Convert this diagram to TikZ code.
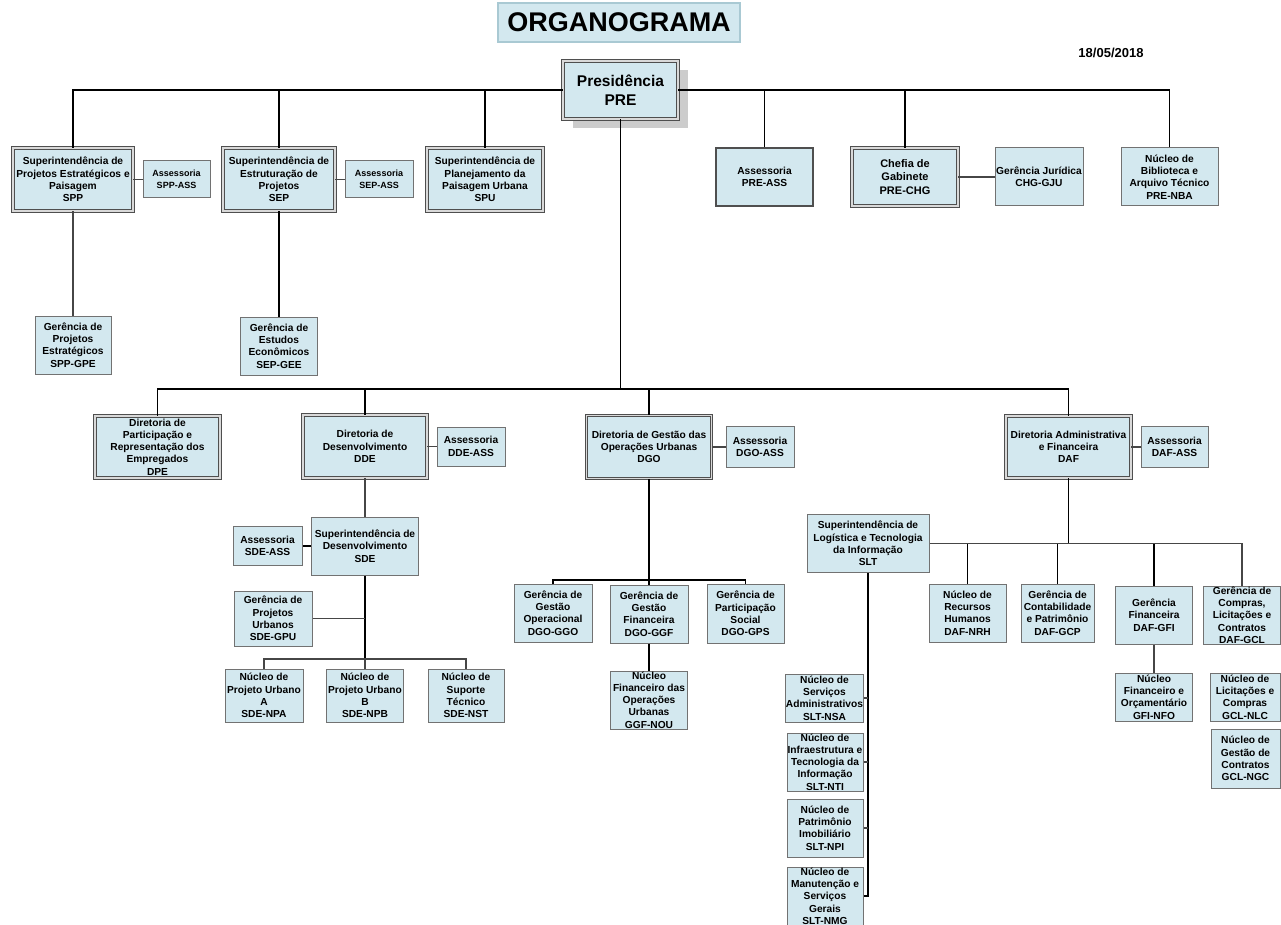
\documentclass[tikz,border=0pt]{standalone}
\usepackage{fontspec}
\setmainfont{Liberation Sans}
\usetikzlibrary{positioning,shadows}
\definecolor{boxfill}{HTML}{D3E8EF}
\definecolor{boxline}{HTML}{4F4F4F}
\definecolor{titleline}{HTML}{A9C9D3}
\tikzset{
    every node/.style={color=black, font=\bfseries\fontsize{10.2}{12.3}\selectfont},
    every path/.style={color=black}
}

\begin{document}
\begin{tikzpicture}[
        x=1pt, y=-1pt,
        line width=1pt,
        unit/.style={rectangle, draw=boxline!80, fill=boxfill, align=center, inner sep=0pt, line width=1pt},
        headunit/.style={unit, draw=boxline, double=gray!30, double distance=1.4pt, line width=0.9pt},
        link/.style={draw=black, line width=1.6pt},
        tie/.style={draw=gray!55!black, line width=1.1pt}
    ]
    \useasboundingbox (0,0) rectangle (1281,925);

    % Title and date
    \node[unit, draw=titleline, line width=1.2pt, minimum width=242pt, minimum height=39pt,
          font=\bfseries\fontsize{27}{30}\selectfont] (title) at (619,22.5) {ORGANOGRAMA};
    \node[font=\bfseries\fontsize{13}{15}\selectfont] (date) at (1111,53) {18/05/2018};

    % Presidencia
    \node[headunit, minimum width=115pt, minimum height=58pt, font=\bfseries\fontsize{15.5}{19}\selectfont,
          drop shadow={shadow xshift=10pt, shadow yshift=-9pt, fill=gray!40, opacity=1}]
          (pre) at (620.5,90) {Presidência\\PRE};

    % First row
    \node[headunit, minimum width=120pt, minimum height=63pt] (spp) at (73,179.5) {Superintendência de\\Projetos Estratégicos e\\Paisagem\\SPP};
    \node[unit, minimum width=67pt, minimum height=37pt, font=\bfseries\fontsize{9}{11.5}\selectfont] (sppass) at (176.5,179.5) {Assessoria\\SPP-ASS};
    \node[unit, minimum width=76pt, minimum height=58pt] (sppgpe) at (73,345) {Gerência de\\Projetos\\Estratégicos\\SPP-GPE};
    \node[headunit, minimum width=112pt, minimum height=63pt] (sep) at (279,179.5) {Superintendência de\\Estruturação de\\Projetos\\SEP};
    \node[unit, minimum width=68pt, minimum height=37pt, font=\bfseries\fontsize{9}{11.5}\selectfont] (sepass) at (379,179.5) {Assessoria\\SEP-ASS};
    \node[unit, minimum width=77pt, minimum height=58pt] (sepgee) at (279,346) {Gerência de\\Estudos\\Econômicos\\SEP-GEE};
    \node[headunit, minimum width=116pt, minimum height=63pt] (spu) at (485,179.5) {Superintendência de\\Planejamento da\\Paisagem Urbana\\SPU};
    \node[unit, draw=boxline, line width=1.3pt, minimum width=97pt, minimum height=58pt] (preass) at (764.5,177) {Assessoria\\PRE-ASS};
    \node[headunit, minimum width=106pt, minimum height=58pt, font=\bfseries\fontsize{11}{13.3}\selectfont] (prechg) at (905,177) {Chefia de\\Gabinete\\PRE-CHG};
    \node[unit, minimum width=88pt, minimum height=58pt] (chggju) at (1039,177) {Gerência Jurídica\\CHG-GJU};
    \node[unit, minimum width=97pt, minimum height=58pt] (prenba) at (1169.5,177) {Núcleo de\\Biblioteca e\\Arquivo Técnico\\PRE-NBA};

    % Directorates
    \coordinate (hub) at (620.5,389);
    \node[headunit, minimum width=125pt, minimum height=62pt] (dpe) at (157.5,447) {Diretoria de\\Participação e\\Representação dos\\Empregados\\DPE};
    \node[headunit, minimum width=124pt, minimum height=63pt] (dde) at (365,446.5) {Diretoria de\\Desenvolvimento\\DDE};
    \node[unit, minimum width=68pt, minimum height=39pt] (ddeass) at (471,446.5) {Assessoria\\DDE-ASS};
    \node[headunit, minimum width=125pt, minimum height=63pt] (dgo) at (649,447) {Diretoria de Gestão das\\Operações Urbanas\\DGO};
    \node[unit, minimum width=68pt, minimum height=41pt] (dgoass) at (760,447) {Assessoria\\DGO-ASS};
    \node[headunit, minimum width=125pt, minimum height=62pt] (daf) at (1068.5,447) {Diretoria Administrativa\\e Financeira\\DAF};
    \node[unit, minimum width=67pt, minimum height=41pt] (dafass) at (1174.5,447) {Assessoria\\DAF-ASS};

    % DDE branch
    \node[unit, minimum width=107pt, minimum height=58pt] (sde) at (365,546) {Superintendência de\\Desenvolvimento\\SDE};
    \node[unit, minimum width=69pt, minimum height=39pt] (sdeass) at (267.5,546) {Assessoria\\SDE-ASS};
    \node[unit, minimum width=78pt, minimum height=55pt] (sdegpu) at (273,618.5) {Gerência de\\Projetos\\Urbanos\\SDE-GPU};
    \coordinate (sdehub) at (365,659);
    \node[unit, minimum width=78pt, minimum height=53pt] (sdenpa) at (264,695.5) {Núcleo de\\Projeto Urbano\\A\\SDE-NPA};
    \node[unit, minimum width=77pt, minimum height=53pt] (sdenpb) at (365,695.5) {Núcleo de\\Projeto Urbano\\B\\SDE-NPB};
    \node[unit, minimum width=76pt, minimum height=53pt] (sdenst) at (466,695.5) {Núcleo de\\Suporte\\Técnico\\SDE-NST};

    % DGO branch
    \coordinate (dgohub) at (649,580);
    \node[unit, minimum width=78pt, minimum height=58pt] (dgoggo) at (553,613) {Gerência de\\Gestão\\Operacional\\DGO-GGO};
    \node[unit, minimum width=78pt, minimum height=58pt] (dgoggf) at (649,614) {Gerência de\\Gestão\\Financeira\\DGO-GGF};
    \node[unit, minimum width=77pt, minimum height=59pt] (dgogps) at (745.5,613.5) {Gerência de\\Participação\\Social\\DGO-GPS};
    \node[unit, minimum width=77pt, minimum height=58pt] (ggfnou) at (649,700) {Núcleo\\Financeiro das\\Operações\\Urbanas\\GGF-NOU};

    % DAF branch
    \node[unit, minimum width=122pt, minimum height=58pt] (slt) at (868,543.5) {Superintendência de\\Logística e Tecnologia\\da Informação\\SLT};
    \node[unit, minimum width=77pt, minimum height=58pt] (dafnrh) at (967.5,613) {Núcleo de\\Recursos\\Humanos\\DAF-NRH};
    \node[unit, minimum width=73pt, minimum height=58pt] (dafgcp) at (1057.5,613) {Gerência de\\Contabilidade\\e Patrimônio\\DAF-GCP};
    \node[unit, minimum width=77pt, minimum height=58pt] (dafgfi) at (1154,615) {Gerência\\Financeira\\DAF-GFI};
    \node[unit, minimum width=77pt, minimum height=58pt] (dafgcl) at (1242,615) {Gerência de\\Compras,\\Licitações e\\Contratos\\DAF-GCL};
    \node[unit, minimum width=77pt, minimum height=48pt] (gfinfo) at (1154,697) {Núcleo\\Financeiro e\\Orçamentário\\GFI-NFO};
    \node[unit, minimum width=70pt, minimum height=48pt] (gclnlc) at (1245,697) {Núcleo de\\Licitações e\\Compras\\GCL-NLC};
    \node[unit, minimum width=69pt, minimum height=59pt] (gclngc) at (1245.5,758.5) {Núcleo de\\Gestão de\\Contratos\\GCL-NGC};

    % SLT branch
    \node[unit, minimum width=77pt, minimum height=48pt] (sltnsa) at (824.5,698) {Núcleo de\\Serviços\\Administrativos\\SLT-NSA};
    \node[unit, minimum width=76pt, minimum height=58pt] (sltnti) at (825,762) {Núcleo de\\Infraestrutura e\\Tecnologia da\\Informação\\SLT-NTI};
    \node[unit, minimum width=76pt, minimum height=58pt] (sltnpi) at (825,828) {Núcleo de\\Patrimônio\\Imobiliário\\SLT-NPI};
    \node[unit, minimum width=76pt, minimum height=58pt] (sltnmg) at (825,896) {Núcleo de\\Manutenção e\\Serviços\\Gerais\\SLT-NMG};

    % Connections presidencia -> first row
    \draw[link] (spp.north) |- (pre.west);
    \draw[link] (pre.east) -| (prenba.north);
    \foreach \n in {sep,spu,preass,prechg}
        \draw[link] (\n.north) -- (\n.north |- pre.west);
    \draw[tie] (spp.east) -- (sppass.west);
    \draw[tie] (sep.east) -- (sepass.west);
    \draw[tie] (prechg.east) -- (chggju.west);
    \draw[tie] (spp.south) -- (sppgpe.north);
    \draw[link] (sep.south) -- (sepgee.north);

    % Connections presidencia -> directorates
    \draw[link] (pre.south) -- (hub);
    \draw[link] (dpe.north) |- (hub) -| (daf.north);
    \foreach \n in {dde,dgo}
        \draw[link] (\n.north) -- (\n.north |- hub);
    \draw[tie] (dde.east) -- (ddeass.west);
    \draw[tie] (dgo.east) -- (dgoass.west);
    \draw[tie] (daf.east) -- (dafass.west);

    % DDE
    \draw[tie] (dde.south) -- (sde.north);
    \draw[link] (sdeass.east) -- (sde.west);
    \draw[link] (sde.south) -- (sdehub);
    \draw[tie] (sdegpu.east) -- (sdegpu.east -| sde.south);
    \draw[tie] (sdenpa.north) |- (sdehub) -| (sdenst.north);
    \draw[tie] (sdehub) -- (sdenpb.north);

    % DGO
    \draw[link] (dgo.south) -- (dgohub);
    \draw[link] (dgoggo.north) |- (dgohub) -| (dgogps.north);
    \draw[link] (dgohub) -- (dgoggf.north);
    \draw[link] (dgoggf.south) -- (ggfnou.north);

    % DAF
    \draw[link] (daf.south) -- (daf.south |- slt.east);
    \draw[tie] (slt.east) -| (dafgcl.north);
    \foreach \n in {dafnrh,dafgcp,dafgfi}
        \draw[link] (\n.north) -- (\n.north |- slt.east);
    \draw[tie] (dafgfi.south) -- (gfinfo.north);

    % SLT
    \draw[link] (slt.south) |- (sltnmg.east);
    \foreach \n in {sltnsa,sltnti,sltnpi}
        \draw[tie] (\n.east) -- (\n.east -| slt.south);

\end{tikzpicture}
\end{document}
